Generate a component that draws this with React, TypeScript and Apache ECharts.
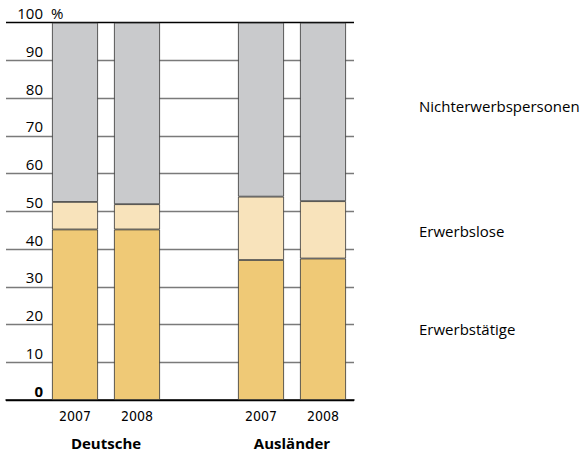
import React, { useEffect, useRef } from "react";
import * as echarts from "echarts";

const categories = ["2007", "2008", "", "2007", "2008"];
const groupLabels = ["", "", "Deutsche", "", "", "", "", "", "Ausländer", "", ""];
const seriesNames = ["Erwerbstätige", "Erwerbslose", "Nichterwerbspersonen"];
const erwerbstaetige = [45.2, 45.2, null, 37.1, 37.5];
const erwerbslose = [7.3, 6.7, null, 16.8, 15.2];
const nichterwerbspersonen = [47.5, 48.1, null, 46.1, 47.3];
const yTicks = [0, 10, 20, 30, 40, 50, 60, 70, 80, 90, 100];

const colors = ["#EFC976", "#F8E3BB", "#C9CACC"];
const FONT = "'Open Sans', 'Noto Sans', sans-serif";

export default function App() {
  const ref = useRef<HTMLDivElement>(null);
  useEffect(() => {
    if (!ref.current) return;
    const chart = echarts.init(ref.current, null, { renderer: "svg" });
    const top = 22.7;
    const height = 377.3;
    const dataSets = [erwerbstaetige, erwerbslose, nichterwerbspersonen];
    const splitColors = yTicks.map((v, i) =>
      i === 0 || i === yTicks.length - 1 ? "#000" : "#7a7a7a"
    );
    chart.setOption({
      animation: false,
      grid: [
        { left: 44, top, width: 310, height },
        { left: 6, top, width: 348, height },
      ],
      xAxis: [
        {
          type: "category",
          gridIndex: 0,
          data: categories,
          axisLine: { show: false },
          axisTick: { show: false },
          axisLabel: {
            interval: 0,
            margin: 9,
            fontFamily: "'Liberation Sans Narrow', 'DejaVu Sans Condensed', sans-serif",
            fontSize: 14,
            color: "#000",
          },
        },
        {
          type: "category",
          gridIndex: 0,
          position: "bottom",
          boundaryGap: false,
          data: groupLabels,
          axisLine: { show: false },
          axisTick: { show: false },
          axisLabel: {
            interval: 0,
            margin: 35,
            fontFamily: FONT,
            fontWeight: "bold",
            fontSize: 15,
            color: "#000",
          },
        },
        {
          type: "value",
          gridIndex: 1,
          min: 0,
          max: 1,
          axisLine: { show: true, lineStyle: { color: "#000", width: 1.5 } },
          axisTick: { show: false },
          axisLabel: { show: false },
          splitLine: { show: false },
        },
      ],
      yAxis: [
        {
          type: "value",
          gridIndex: 0,
          min: 0,
          max: 100,
          interval: 10,
          axisLine: { show: false },
          axisTick: { show: false },
          splitLine: { show: false },
          axisLabel: {
            margin: 1,
            verticalAlign: "bottom",
            padding: [0, 0, 2, 0],
            fontFamily: FONT,
            fontSize: 15,
            color: "#000",
            formatter: (v: number) => (v === 0 ? "{b|0}" : String(v)),
            rich: {
              b: { fontWeight: "bold", fontFamily: FONT, fontSize: 15, color: "#000" },
            },
          },
        },
        {
          type: "value",
          gridIndex: 1,
          min: 0,
          max: 100,
          interval: 10,
          axisLine: { show: false },
          axisTick: { show: false },
          axisLabel: { show: false },
          splitLine: { show: true, lineStyle: { color: splitColors, width: 1.3 } },
        },
      ],
      series: seriesNames.map((name, i) => ({
        name,
        type: "bar",
        stack: "total",
        xAxisIndex: 0,
        yAxisIndex: 0,
        barWidth: 46,
        data: dataSets[i].map((v) => (v === null ? "-" : v)),
        itemStyle: { color: colors[i], borderColor: "#333", borderWidth: 0.8 },
      })),
      graphic: [
        {
          type: "text",
          left: 51,
          top: 5,
          style: { text: "%", fontFamily: FONT, fontSize: 15, fill: "#000" },
        },
        {
          type: "text",
          left: 419,
          top: 98,
          style: { text: seriesNames[2], fontFamily: FONT, fontSize: 15, fill: "#000" },
        },
        {
          type: "text",
          left: 419,
          top: 223,
          style: { text: seriesNames[1], fontFamily: FONT, fontSize: 15, fill: "#000" },
        },
        {
          type: "text",
          left: 419,
          top: 321,
          style: { text: seriesNames[0], fontFamily: FONT, fontSize: 15, fill: "#000" },
        },
      ],
    });
    return () => chart.dispose();
  }, []);
  return (
    <div
      ref={ref}
      style={{ position: "fixed", left: 0, top: 0, width: 587, height: 456, background: "#fff" }}
    />
  );
}
